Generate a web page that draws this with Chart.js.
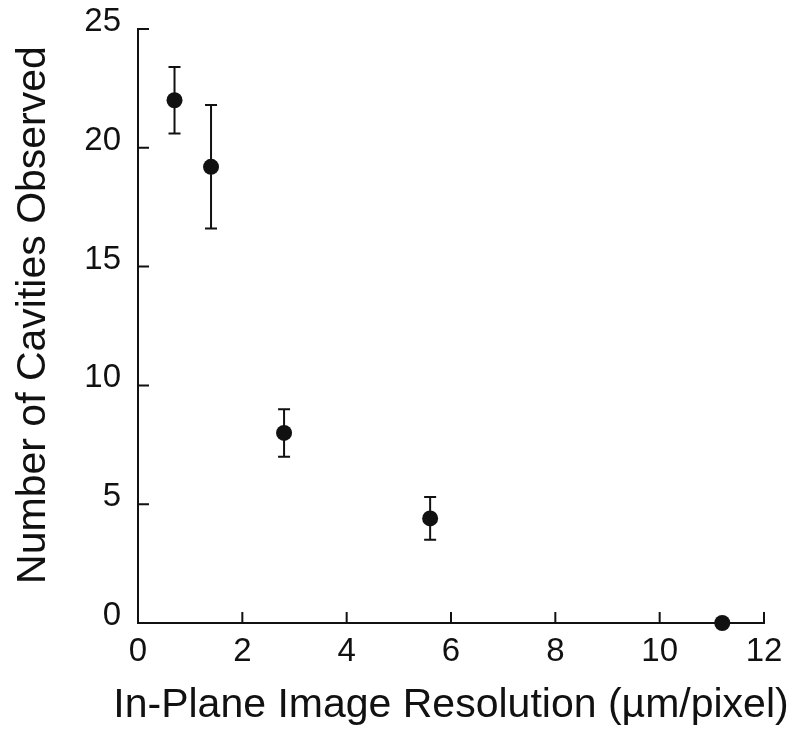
<!DOCTYPE html>
<html>
<head>
<meta charset="utf-8">
<script src="https://cdn.jsdelivr.net/npm/chart.js@4/dist/chart.umd.min.js"></script>
<style>
  html, body { margin: 0; padding: 0; background: #fff; }
  #wrap { width: 800px; height: 739px; }
</style>
</head>
<body>
<div id="wrap"><canvas id="c" width="800" height="739"></canvas></div>
<script>
// Data
const resolution = [0.7, 1.4, 2.8, 5.6, 11.2];     // µm/pixel
const cavities   = [22.0, 19.2, 8.0, 4.4, 0];     // number observed
const errors     = [1.4, 2.6, 1.0, 0.9, 0];       // ± error

const xTitle = 'In-Plane Image Resolution (\u00b5m/pixel)';
const yTitle = 'Number of Cavities Observed';

const FONT = '"Liberation Sans", Arial, Helvetica, sans-serif';
const INK = '#111';

const errorBarPlugin = {
  id: 'errorBars',
  afterDatasetsDraw(chart) {
    const ctx = chart.ctx;
    const xs = chart.scales.x, ys = chart.scales.y;
    ctx.save();
    ctx.strokeStyle = INK;
    ctx.lineWidth = 2;
    resolution.forEach((xv, i) => {
      const e = errors[i];
      if (!e) return;
      const px = xs.getPixelForValue(xv);
      const top = ys.getPixelForValue(cavities[i] + e);
      const bot = ys.getPixelForValue(cavities[i] - e);
      ctx.beginPath();
      ctx.moveTo(px, top); ctx.lineTo(px, bot);
      ctx.moveTo(px - 6, top); ctx.lineTo(px + 6, top);
      ctx.moveTo(px - 6, bot); ctx.lineTo(px + 6, bot);
      ctx.stroke();
    });
    ctx.restore();
  }
};

const axesDecorPlugin = {
  id: 'axesDecor',
  afterDraw(chart) {
    const ctx = chart.ctx;
    const xs = chart.scales.x, ys = chart.scales.y;
    const area = chart.chartArea;
    ctx.save();
    ctx.strokeStyle = INK;
    ctx.lineWidth = 2;
    ctx.beginPath();
    xs.ticks.forEach(t => {
      if (t.value === 0) return;
      const p = xs.getPixelForValue(t.value);
      ctx.moveTo(p, area.bottom); ctx.lineTo(p, area.bottom - 11);
    });
    ys.ticks.forEach(t => {
      if (t.value === 0) return;
      const p = ys.getPixelForValue(t.value);
      ctx.moveTo(area.left, p); ctx.lineTo(area.left + 11, p);
    });
    ctx.stroke();
    // axis titles
    ctx.fillStyle = INK;
    ctx.font = '41px ' + FONT;
    ctx.textAlign = 'center';
    ctx.textBaseline = 'alphabetic';
    ctx.fillText(xTitle, (area.left + area.right) / 2, 717);
    ctx.translate(45, 315);
    ctx.rotate(-Math.PI / 2);
    ctx.fillText(yTitle, 0, 0);
    ctx.restore();
  }
};

new Chart(document.getElementById('c'), {
  type: 'scatter',
  data: {
    datasets: [{
      label: 'Cavities',
      data: resolution.map((x, i) => ({ x: x, y: cavities[i] })),
      backgroundColor: INK,
      borderColor: INK,
      pointRadius: 8,
      pointHoverRadius: 8,
      pointBorderWidth: 0
    }]
  },
  options: {
    responsive: false,
    animation: false,
    devicePixelRatio: 1,
    clip: false,
    layout: { padding: { top: 29, right: 36, bottom: 0, left: 0 } },
    plugins: {
      legend: { display: false },
      tooltip: { enabled: false }
    },
    scales: {
      x: {
        type: 'linear',
        min: 0, max: 12,
        grid: { display: false, drawTicks: false, tickLength: 0 },
        border: { display: true, color: INK, width: 2 },
        ticks: {
          stepSize: 2,
          color: INK,
          padding: 9,
          font: { family: FONT, size: 33 }
        },
        afterFit(s) { s.height = 116; s.paddingLeft = 0; s.paddingRight = 0; }
      },
      y: {
        type: 'linear',
        min: 0, max: 25,
        grid: { display: false, drawTicks: false, tickLength: 0 },
        border: { display: true, color: INK, width: 2 },
        ticks: {
          stepSize: 5,
          color: INK,
          padding: 17,
          labelOffset: -7,
          font: { family: FONT, size: 33 }
        },
        afterFit(s) { s.width = 138; s.paddingTop = 0; s.paddingBottom = 0; }
      }
    }
  },
  plugins: [errorBarPlugin, axesDecorPlugin]
});
</script>
</body>
</html>
